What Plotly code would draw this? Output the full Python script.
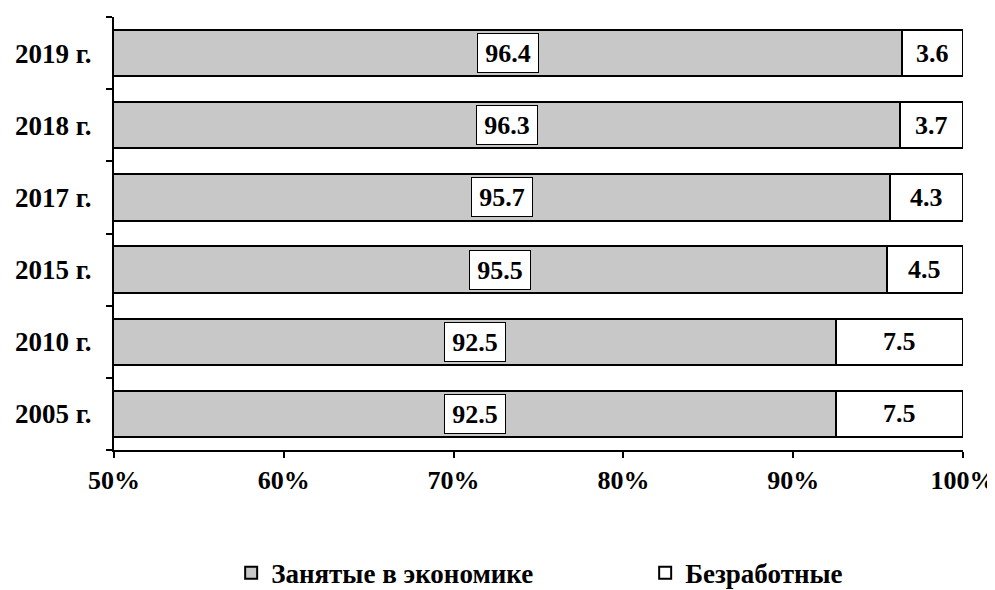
import plotly.graph_objects as go

years = ["2005 г.", "2010 г.", "2015 г.", "2017 г.", "2018 г.", "2019 г."]
employed = [92.5, 92.5, 95.5, 95.7, 96.3, 96.4]
unemployed = [7.5, 7.5, 4.5, 4.3, 3.7, 3.6]
x_ticks = [50, 60, 70, 80, 90, 100]
x_tick_labels = ["50%", "60%", "70%", "80%", "90%", "100%"]

FONT = "Liberation Serif, Times New Roman, serif"
fig = go.Figure()
fig.add_trace(go.Bar(
    y=years, x=employed, orientation="h", name="Занятые в экономике",
    marker=dict(color="#c8c8c8", line=dict(color="black", width=2)),
    width=0.64, hoverinfo="skip"))
fig.add_trace(go.Bar(
    y=years, x=unemployed, orientation="h", name="Безработные",
    marker=dict(color="white", line=dict(color="black", width=2)),
    width=0.64, hoverinfo="skip"))

for y, e, u in zip(years, employed, unemployed):
    fig.add_annotation(x=(50 + e) / 2, y=y, text=f"{e:.1f}", showarrow=False,
                       font=dict(family=FONT, size=26, color="black", weight="bold"),
                       bgcolor="white", bordercolor="black", borderwidth=1,
                       width=56, height=34, borderpad=2)
    fig.add_annotation(x=e + u / 2, y=y, text=f"{u:.1f}", showarrow=False,
                       font=dict(family=FONT, size=26, color="black", weight="bold"))

# page body has an 8px default margin, so the figure is 8px smaller
fig.update_layout(
    barmode="stack", width=987, height=582,
    margin=dict(l=106, r=32, t=9, b=140, autoexpand=False),
    paper_bgcolor="white", plot_bgcolor="white",
    font=dict(family=FONT, size=26, color="black", weight="bold"),
    bargap=0.36,
    legend=dict(orientation="h", x=0.138, xanchor="left", y=-0.228, yanchor="top",
                entrywidth=369, entrywidthmode="pixels", itemwidth=30,
                font=dict(family=FONT, size=27, color="black", weight="bold"),
                traceorder="normal"),
    xaxis=dict(range=[50, 100], tickvals=x_ticks, ticktext=x_tick_labels,
               showgrid=False, zeroline=False, showline=True, linecolor="black",
               linewidth=2, ticks="outside", ticklen=6, tickwidth=2, tickcolor="black",
               ticklabelstandoff=0, automargin=False, ticklabeloverflow="allow",
               tickfont=dict(family=FONT, size=26, color="black", weight="bold")),
    yaxis=dict(categoryorder="array", categoryarray=years, showgrid=False,
               showline=True, linecolor="black", linewidth=2, ticks="outside",
               tickson="boundaries", ticklen=6, tickwidth=2, tickcolor="black",
               ticklabelstandoff=15, automargin=False,
               tickfont=dict(family=FONT, size=27, color="black", weight="bold")),
)
fig.write_html("out.html")
